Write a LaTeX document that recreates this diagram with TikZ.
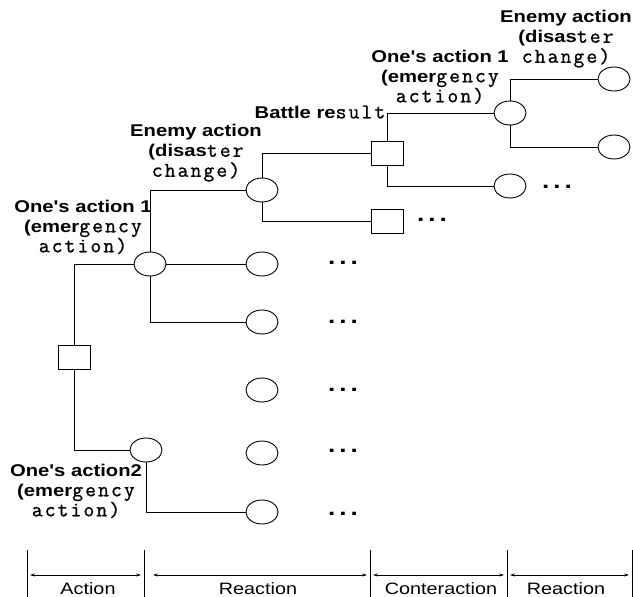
\documentclass[tikz,border=0pt]{standalone}
\usepackage{fontspec}
\usetikzlibrary{shapes.geometric,arrows.meta}
\setmainfont{Liberation Sans}
\setmonofont[FakeBold=1,LetterSpace=10]{Latin Modern Mono}
\newfontfamily\boldlab[FakeStretch=1.19]{Liberation Sans Bold}
\newfontfamily\regfont[FakeStretch=1.2]{Liberation Sans}
\newcommand{\ms}[1]{{\ttfamily\fontsize{21bp}{20bp}\selectfont #1}}
\newcommand{\labfont}{\boldlab\fontsize{17bp}{20bp}\selectfont}
\begin{document}
\begin{tikzpicture}[x=1bp,y=-1bp,line width=0.9bp,
  sq/.style={draw,rectangle,minimum width=32bp,minimum height=24bp,inner sep=0pt},
  ov/.style={draw,ellipse,minimum width=32bp,minimum height=24bp,inner sep=0pt},
  lab/.style={align=center,inner sep=0pt,font=\labfont},
  dots/.style={inner sep=0pt,font=\boldlab\fontsize{22bp}{22bp}\selectfont},
  tl/.style={font=\regfont\fontsize{16.5bp}{18bp}\selectfont,inner sep=0pt},
  dim/.style={line width=0.6bp,{Stealth[length=5bp,width=3bp]}-{Stealth[length=5bp,width=3bp]}}]
\useasboundingbox (0,0) rectangle (633,597);
% nodes
\node[sq] (r) at (74,357) {};
\node[ov] (a) at (150,264) {};
\node[ov] (b) at (146,450) {};
\node[ov] (c) at (262,190) {};
\node[ov] (a2) at (262,264) {};
\node[ov] (a3) at (262,322) {};
\node[ov] (a4) at (262,390) {};
\node[ov] (a5) at (262,453) {};
\node[ov] (b2) at (262,512) {};
\node[sq] (d) at (387,153) {};
\node[sq] (e) at (387,221) {};
\node[ov] (f) at (510,113) {};
\node[ov] (g) at (510,186) {};
\node[ov] (h) at (614,79) {};
\node[ov] (i) at (614,147) {};
% connectors
\draw (r.north) |- (a.west);
\draw (r.south) |- (b.west);
\draw (a.north) |- (c.west);
\draw (a.east) -- (a2.west);
\draw (a.south) |- (a3.west);
\draw (b.south) |- (b2.west);
\draw (c.north) |- (d.west);
\draw (c.south) |- (e.west);
\draw (d.north) |- (f.west);
\draw (d.south) |- (g.west);
\draw (f.north) |- (h.west);
\draw (f.south) |- (i.west);
% dots
\node[dots] (d1) at (343,263) {.\kern4bp.\kern4bp.};
\node[dots] (d2) at (343,322) {.\kern4bp.\kern4bp.};
\node[dots] (d3) at (343,390) {.\kern4bp.\kern4bp.};
\node[dots] (d4) at (343,451) {.\kern4bp.\kern4bp.};
\node[dots] (d5) at (343,514) {.\kern4bp.\kern4bp.};
\node[dots] (d6) at (432,220) {.\kern4bp.\kern4bp.};
\node[dots] (d7) at (557,187) {.\kern4bp.\kern4bp.};
% labels
\node[lab] (l1) at (566,39) {Enemy action\\(disas\ms{ter}\\\ms{change)}};
\node[lab] (l2) at (440,77) {One's action 1\\(emer\ms{gency}\\\ms{action)}};
\node[lab] (l3) at (320,112) {Battle re\ms{sult}};
\node[lab] (l4) at (196,153) {Enemy action\\(disas\ms{ter}\\\ms{change)}};
\node[lab] (l5) at (83,227) {One's action 1\\(emer\ms{gency}\\\ms{action)}};
\node[lab] (l6) at (76,491) {One's action2\\(emer\ms{gency}\\\ms{action)}};
% timeline
\foreach \n/\x in {1/27,2/144,3/370,4/507,5/632}{
  \coordinate (t\n) at (\x,575);
  \draw[line width=0.7bp] (\x,550) -- (\x,597);
}
\draw[dim] ([xshift=3bp]t1) -- ([xshift=-3bp]t2);
\draw[dim] ([xshift=9bp]t2) -- ([xshift=-3bp]t3);
\draw[dim] ([xshift=3bp]t3) -- ([xshift=-3bp]t4);
\draw[dim] ([xshift=3bp]t4) -- ([xshift=-3bp]t5);
\node[tl] (x1) at (88,589) {Action};
\node[tl] (x2) at (258,589) {Reaction};
\node[tl] (x3) at (441,589) {Conteraction};
\node[tl] (x4) at (566,589) {Reaction};
\end{tikzpicture}
\end{document}
